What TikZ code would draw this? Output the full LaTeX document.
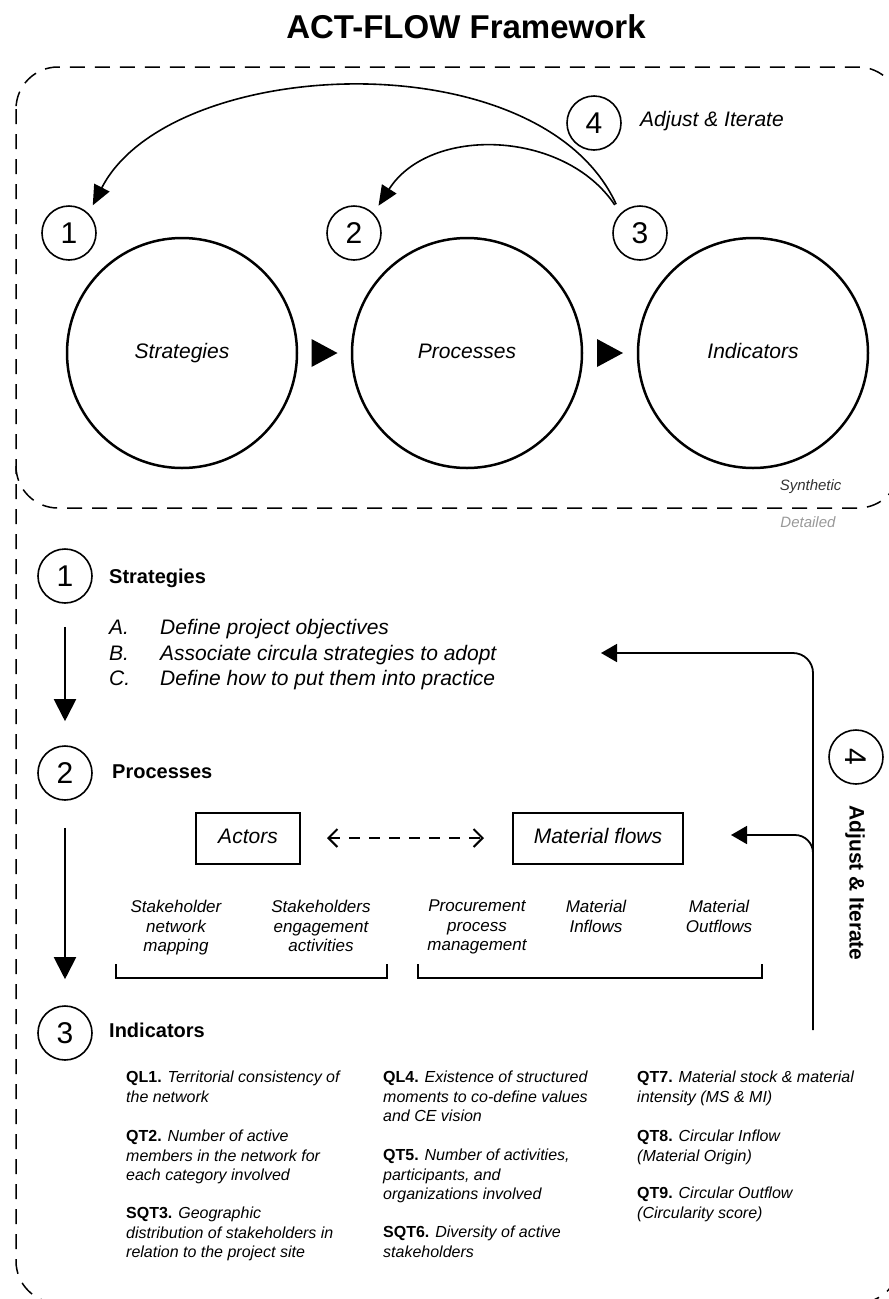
\documentclass[tikz,border=0pt]{standalone}
\usepackage{fontspec}
\setmainfont{Liberation Sans}
\usetikzlibrary{arrows.meta,calc,positioning}
\newcommand\fsz[2]{\fontsize{#1}{#2}\selectfont}

\begin{document}
\begin{tikzpicture}[x=1pt,y=-1pt,
    border/.style={line width=1.5pt, dash pattern=on 15pt off 10pt, rounded corners=42pt},
    bigcirc/.style={circle, draw, line width=2.5pt, minimum size=230pt, inner sep=0pt, text height=15pt, text depth=5pt, font={\fsz{21}{25}\itshape}},
    numcirc/.style={circle, draw, line width=1.6pt, minimum size=54pt, inner sep=0pt, font={\fsz{30}{36}}},
    loopline/.style={line width=1.6pt, -{Triangle[length=20pt,width=17pt]}},
    downarrow/.style={line width=2pt, -{Triangle[length=22pt,width=22pt]}},
    fbline/.style={line width=1.8pt, -{Triangle[length=16pt,width=18pt]}},
    heading/.style={anchor=west, inner sep=0pt, font={\fsz{20}{24}\bfseries}},
    listtxt/.style={anchor=base west, inner sep=0pt, font={\fsz{21}{25}\itshape}},
    flowbox/.style={draw, line width=2pt, minimum height=51pt, text height=15pt, text depth=5pt, font={\fsz{21}{25}\itshape}},
    sublabel/.style={anchor=north, align=center, inner sep=0pt, font={\fsz{17}{19.5}\itshape}},
    bracket/.style={line width=2pt},
    indtxt/.style={anchor=north west, align=left, inner sep=0pt, font={\fsz{16}{19.3}}},
    ]
    \useasboundingbox (0,0) rectangle (889,1299);

    % Title
    \node[font={\fsz{33}{38}\bfseries}] (title) at (466,27) {ACT-FLOW Framework};

    % Dashed frames: whole diagram, and the line closing the synthetic part
    \draw[border] (16,67) rectangle (900,1303);
    \draw[border] (16,466) -- (16,508) -- (900,508) -- (900,466);
    \node[anchor=east, font={\fsz{15}{18}\itshape}, text=black!80] (synth) at (845,487) {Synthetic};
    \node[anchor=east, font={\fsz{15}{18}\itshape}, text=black!40] (detail) at (839,522) {Detailed};

    % Synthetic view
    \node[bigcirc] (strat) at (182,353) {Strategies};
    \node[bigcirc] (proc) at (467,353) {Processes};
    \node[bigcirc] (indic) at (753,353) {Indicators};
    \coordinate (m1) at ($(strat.east)!0.5!(proc.west)$);
    \coordinate (m2) at ($(proc.east)!0.5!(indic.west)$);
    \fill ($(m1)+(-13,-14)$) -- ($(m1)+(13,0)$) -- ($(m1)+(-13,14)$) -- cycle;
    \fill ($(m2)+(-13,-14)$) -- ($(m2)+(13,0)$) -- ($(m2)+(-13,14)$) -- cycle;

    \node[numcirc] (n1) at (69,233) {1};
    \node[numcirc] (n2) at (354,233) {2};
    \node[numcirc] (n3) at (640,233) {3};
    \node[numcirc] (n4) at (594,123) {4};
    \node[anchor=west, inner sep=0pt, font={\fsz{21}{25}\itshape}] (adj) at (640,121) {Adjust \& Iterate};

    \draw[loopline, shorten <=10pt, shorten >=9pt] (n3.135) .. controls (540,38) and (170,55) .. (n1.45);
    \draw[loopline, shorten <=10pt, shorten >=9pt] (n3.135) .. controls (565,130) and (430,125) .. (n2.45);

    % Detailed view - 1
    \node[numcirc] (s1) at (65,576) {1};
    \node[heading] (h1) at (109,578) {Strategies};
    \node[listtxt] (la) at (109,634) {A.};
    \node[listtxt] (lb) at (109,660) {B.};
    \node[listtxt] (lc) at (109,685) {C.};
    \node[listtxt] (ta) at (160,634) {Define project objectives};
    \node[listtxt] (tb) at (160,660) {Associate circula strategies to adopt};
    \node[listtxt] (tc) at (160,685) {Define how to put them into practice};

    % Detailed view - 2
    \node[numcirc] (s2) at (65,773) {2};
    \node[heading] (h2) at (112,772) {Processes};
    \node[flowbox, minimum width=104pt] (actors) at (248,838) {Actors};
    \node[flowbox, minimum width=170pt] (mflows) at (598,838) {Material flows};
    \draw[line width=2pt, dash pattern=on 11pt off 9pt,
          {Straight Barb[length=9pt,width=18pt]}-{Straight Barb[length=9pt,width=18pt]},
          shorten <=26pt, shorten >=28pt] (actors) -- (mflows);

    \node[sublabel] (sl1) at (176,900) {Stakeholder\\network\\mapping};
    \node[sublabel] (sl2) at (321,900) {Stakeholders\\engagement\\activities};
    \node[sublabel] (sl3) at (477,900) {Procurement\\process\\management};
    \node[sublabel] (sl4) at (596,900) {Material\\Inflows};
    \node[sublabel] (sl5) at (719,900) {Material\\Outflows};
    \draw[bracket] (116,964) |- (387,978) -- (387,964);
    \draw[bracket] (418,964) |- (762,978) -- (762,964);

    % Detailed view - 3
    \node[numcirc] (s3) at (65,1033) {3};
    \node[heading] (h3) at (109,1030) {Indicators};

    \node[indtxt] (ql1) at (126,1071) {\textbf{QL1.} \textit{Territorial consistency of}\\\textit{the network}};
    \node[indtxt] (qt2) at (126,1130) {\textbf{QT2.} \textit{Number of active}\\\textit{members in the network for}\\\textit{each category involved}};
    \node[indtxt] (sqt3) at (126,1207) {\textbf{SQT3.} \textit{Geographic}\\\textit{distribution of stakeholders in}\\\textit{relation to the project site}};
    \node[indtxt] (ql4) at (383,1071) {\textbf{QL4.} \textit{Existence of structured}\\\textit{moments to co-define values}\\\textit{and CE vision}};
    \node[indtxt] (qt5) at (383,1149) {\textbf{QT5.} \textit{Number of activities,}\\\textit{participants, and}\\\textit{organizations involved}};
    \node[indtxt] (sqt6) at (383,1226) {\textbf{SQT6.} \textit{Diversity of active}\\\textit{stakeholders}};
    \node[indtxt] (qt7) at (637,1071) {\textbf{QT7.} \textit{Material stock \& material}\\\textit{intensity (MS \& MI)}};
    \node[indtxt] (qt8) at (637,1130) {\textbf{QT8.} \textit{Circular Inflow}\\\textit{(Material Origin)}};
    \node[indtxt] (qt9) at (637,1187) {\textbf{QT9.} \textit{Circular Outflow}\\\textit{(Circularity score)}};

    % Arrows between steps
    \draw[downarrow] ([yshift=-23pt]s1.south) -- ([yshift=24pt]s2.north);
    \draw[downarrow] ([yshift=-27pt]s2.south) -- ([yshift=26pt]s3.north);

    % Feedback loop - 4
    \node[numcirc, rotate=-90] (s4) at (856,757) {4};
    \node[heading, anchor=center, rotate=-90, font={\fsz{21}{25}\bfseries}] (h4) at (855,883) {Adjust \& Iterate};
    \coordinate (fbbot) at (813,1030);
    \coordinate (fbjoin) at (813,880);
    \coordinate (fbtip) at (601,653);
    \coordinate (fbtip2) at (731,835);
    \draw[fbline, rounded corners=20pt] (fbbot) |- (fbtip);
    \draw[fbline, rounded corners=18pt] (fbjoin) |- (fbtip2);
\end{tikzpicture}
\end{document}
